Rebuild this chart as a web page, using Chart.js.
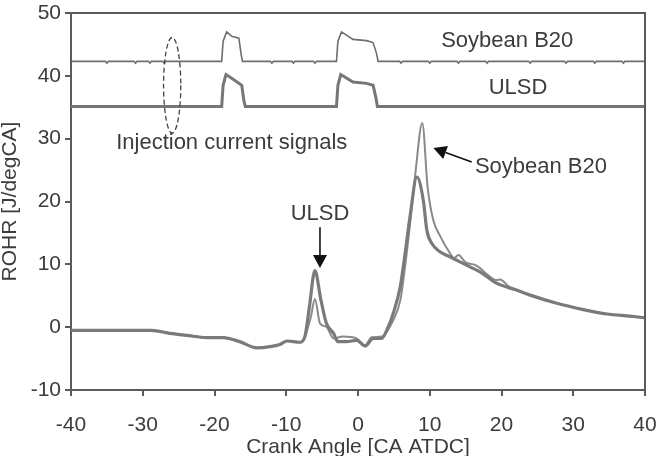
<!DOCTYPE html>
<html>
<head>
<meta charset="utf-8">
<script src="https://cdn.jsdelivr.net/npm/chart.js@4"></script>
<style>
  html, body { margin: 0; padding: 0; background: #fff; }
  #wrap { width: 662px; height: 456px; }
</style>
</head>
<body>
<div id="wrap"><canvas id="chart"></canvas></div>
<script>
// ROHR traces [J/degCA] vs crank angle [CA ATDC]
var ulsdAngle = [-40, -28.8, -26.2, -23.9, -21.1, -18.8, -16.5, -14.1, -12.3, -10.9, -9.9, -8.1, -7.4, -6.8, -6.0, -5.2, -4.4, -3.4, -2.8, -1.6, -0.2, 1.0, 2.1, 3.3, 4.0, 5.0, 5.9, 6.6, 7.3, 8.2, 9.1, 9.6, 10.3, 11.4, 12.8, 14.0, 15.6, 17.0, 19.3, 22.1, 24.0, 27.7, 31.4, 34.7, 37.9, 40];
var ulsdRohr  = [-0.5, -0.5, -1.0, -1.3, -1.65, -1.65, -2.3, -3.3, -3.1, -2.75, -2.2, -2.4, -1.5, 3.0, 9.0, 4.5, 0.6, -1.0, -2.3, -2.3, -2.1, -3.0, -1.8, -1.8, -0.5, 2.5, 6.5, 12.0, 18.0, 23.9, 20.2, 15.4, 13.3, 12.0, 11.2, 10.5, 9.6, 8.8, 7.0, 5.9, 5.1, 3.8, 2.8, 2.1, 1.75, 1.5];

var b20Angle = [-40, -28.8, -26.2, -23.9, -21.1, -18.8, -16.5, -14.1, -12.3, -10.9, -9.9, -8.1, -7.4, -6.6, -6.0, -5.3, -4.4, -3.4, -2.1, -0.2, 1.0, 1.9, 3.3, 4.9, 5.9, 6.6, 7.4, 8.0, 8.96, 9.7, 10.5, 11.4, 12.8, 13.4, 14.0, 15.0, 16.3, 17.0, 18.0, 19.3, 19.8, 21.0, 22.1, 24.0, 27.7, 31.4, 34.7, 37.9, 40];
var b20Rohr  = [-0.5, -0.5, -1.0, -1.3, -1.65, -1.65, -2.3, -3.3, -3.1, -2.75, -2.2, -2.4, -1.5, 1.5, 4.5, 0.6, 0.05, -1.8, -1.5, -1.8, -2.9, -1.6, -1.5, 1.1, 4.3, 10.0, 18.0, 24.5, 32.5, 22.3, 17.0, 14.6, 11.8, 11.0, 11.5, 10.3, 9.9, 9.4, 8.4, 7.5, 7.6, 6.5, 5.9, 5.1, 3.8, 2.8, 2.1, 1.75, 1.5];

// injection current signals (offset traces, arbitrary units)
var ulsdInjAngle = [-40, -19.0, -18.8, -18.4, -17.6, -16.2, -15.9, -15.7, -3.0, -2.8, -2.4, -0.7, 1.2, 2.1, 2.5, 2.7, 40];
var ulsdInjSig   = [35.1, 35.1, 38.5, 40.2, 39.6, 38.5, 36.0, 35.1, 35.1, 38.5, 40.2, 39.0, 38.8, 38.5, 36.5, 35.1, 35.1];

var b20InjAngle = [-40, -35.2, -35.0, -34.8, -31.2, -31.0, -30.8, -29.2, -29.0, -28.8, -27.2, -27.0, -26.8, -19.0, -18.8, -18.3, -17.6, -16.6, -16.3, -16.1, -12.2, -12.0, -11.8, -9.2, -9.0, -8.8, -6.2, -6.0, -5.8, -3.0, -2.8, -2.3, -0.7, 1.2, 2.1, 2.6, 2.8, 5.8, 6.0, 6.2, 9.8, 10.0, 10.2, 13.8, 14.0, 14.2, 17.8, 18.0, 18.2, 23.8, 24.0, 24.2, 28.8, 29.0, 29.2, 32.8, 33.0, 33.2, 36.8, 37.0, 37.2, 40];
var b20InjSig   = [42.3, 42.3, 42.0, 42.3, 42.3, 42.0, 42.3, 42.3, 42.0, 42.3, 42.3, 42.0, 42.3, 42.3, 45.5, 47.0, 46.3, 46.0, 43.5, 42.3, 42.3, 42.0, 42.3, 42.3, 42.0, 42.3, 42.3, 42.0, 42.3, 42.3, 45.5, 47.0, 45.8, 45.6, 45.3, 43.5, 42.3, 42.3, 42.0, 42.3, 42.3, 42.0, 42.3, 42.3, 42.0, 42.3, 42.3, 42.0, 42.3, 42.3, 42.0, 42.3, 42.3, 42.0, 42.3, 42.3, 42.0, 42.3, 42.3, 42.0, 42.3, 42.3];

var xTicks = [-40, -30, -20, -10, 0, 10, 20, 30, 40];
var yTicks = [-10, 0, 10, 20, 30, 40, 50];

function pts(xs, ys){
    var out = [];
    for(var i = 0; i < xs.length; i++){
        out.push({x: xs[i], y: ys[i]});
    }
    return out;
}

var FONT = "'Liberation Sans', Arial, sans-serif";
var TXT = '#3c3c3c';

// labels and arrows, placed in data coordinates (x = text centre)
var notes = [
    {text: 'Soybean B20', x: 20.8, y: 45.6},
    {text: 'ULSD', x: 22.3, y: 38.1},
    {text: 'Injection current signals', x: -17.6, y: 29.3},
    {text: 'ULSD', x: -5.3, y: 18.1},
    {text: 'Soybean B20', x: 25.5, y: 25.5}
];
var arrows = [
    {x1: -5.3, y1: 15.9, x2: -5.3, y2: 9.4},
    {x1: 15.85, y1: 26.3, x2: 10.5, y2: 28.5}
];

var framePlugin = {
    id: 'frame',
    afterDatasetsDraw: function(chart){
        var ctx = chart.ctx, a = chart.chartArea;
        var xs = chart.scales.x, ys = chart.scales.y;
        ctx.save();
        ctx.strokeStyle = '#5a5a5a';
        ctx.lineWidth = 2;
        ctx.beginPath();
        ctx.moveTo(a.left, a.top);
        ctx.lineTo(a.right, a.top);
        ctx.lineTo(a.right, a.bottom);
        ctx.stroke();

        // dashed ellipse round the early signal
        ctx.setLineDash([5, 3]);
        ctx.lineWidth = 1.3;
        ctx.strokeStyle = '#444';
        var cx = xs.getPixelForValue(-25.9), cy = ys.getPixelForValue(38.5);
        var rx = xs.getPixelForValue(-24.7) - cx, ry = cy - ys.getPixelForValue(46.1);
        ctx.beginPath();
        ctx.ellipse(cx, cy, rx, ry, 0, 0, Math.PI * 2);
        ctx.stroke();
        ctx.setLineDash([]);

        ctx.font = '22px ' + FONT;
        ctx.fillStyle = TXT;
        ctx.textBaseline = 'middle';
        ctx.textAlign = 'center';
        for(var i = 0; i < notes.length; i++){
            ctx.fillText(notes[i].text, xs.getPixelForValue(notes[i].x), ys.getPixelForValue(notes[i].y));
        }

        ctx.strokeStyle = '#111';
        ctx.fillStyle = '#111';
        ctx.lineWidth = 1.6;
        for(var j = 0; j < arrows.length; j++){
            var p1x = xs.getPixelForValue(arrows[j].x1), p1y = ys.getPixelForValue(arrows[j].y1);
            var p2x = xs.getPixelForValue(arrows[j].x2), p2y = ys.getPixelForValue(arrows[j].y2);
            var ang = Math.atan2(p2y - p1y, p2x - p1x);
            var hl = 13, hw = 7;
            var bx = p2x - hl * Math.cos(ang), by = p2y - hl * Math.sin(ang);
            ctx.beginPath();
            ctx.moveTo(p1x, p1y);
            ctx.lineTo(bx, by);
            ctx.stroke();
            ctx.beginPath();
            ctx.moveTo(p2x, p2y);
            ctx.lineTo(bx + hw * Math.sin(ang), by - hw * Math.cos(ang));
            ctx.lineTo(bx - hw * Math.sin(ang), by + hw * Math.cos(ang));
            ctx.closePath();
            ctx.fill();
        }
        ctx.restore();
    }
};

var ctx = document.getElementById('chart').getContext('2d');
var myChart = new Chart(ctx, {
    type: 'line',
    data: {
        datasets: [
            {label: 'ULSD injection', data: pts(ulsdInjAngle, ulsdInjSig), borderColor: '#767676', borderWidth: 3, tension: 0},
            {label: 'Soybean B20 injection', data: pts(b20InjAngle, b20InjSig), borderColor: '#6e6e6e', borderWidth: 1.6, tension: 0},
            {label: 'ULSD', data: pts(ulsdAngle, ulsdRohr), borderColor: '#7a7a7a', borderWidth: 3.2, cubicInterpolationMode: 'monotone'},
            {label: 'Soybean B20', data: pts(b20Angle, b20Rohr), borderColor: '#8a8a8a', borderWidth: 2, cubicInterpolationMode: 'monotone'}
        ]
    },
    options: {
        responsive: true,
        maintainAspectRatio: false,
        animation: false,
        parsing: false,
        elements: {point: {radius: 0}, line: {fill: false}},
        layout: {padding: {top: 13, right: 17, left: 0, bottom: 0}},
        plugins: {legend: {display: false}, tooltip: {enabled: false}},
        scales: {
            x: {
                type: 'linear',
                min: -40, max: 40,
                afterFit: function(s){ s.height = 66; s.paddingLeft = 0; s.paddingRight = 0; },
                afterBuildTicks: function(s){ s.ticks = xTicks.map(function(v){ return {value: v}; }); },
                border: {color: '#5a5a5a', width: 2},
                grid: {drawOnChartArea: false, drawTicks: true, tickLength: 6, color: '#5a5a5a', lineWidth: 2},
                ticks: {color: TXT, font: {family: FONT, size: 21}, padding: 17, maxRotation: 0},
                title: {display: true, text: 'Crank Angle [CA ATDC]', color: TXT, font: {family: FONT, size: 21, lineHeight: 0.8}, padding: {top: 0, bottom: 0}}
            },
            y: {
                min: -10, max: 50,
                afterFit: function(s){ s.width = 71; s.paddingTop = 0; s.paddingBottom = 0; },
                afterBuildTicks: function(s){ s.ticks = yTicks.map(function(v){ return {value: v}; }); },
                border: {color: '#5a5a5a', width: 2},
                grid: {drawOnChartArea: false, drawTicks: true, tickLength: 6, color: '#5a5a5a', lineWidth: 2},
                ticks: {color: TXT, font: {family: FONT, size: 21}, padding: 4},
                title: {display: true, text: 'ROHR [J/degCA]', color: TXT, font: {family: FONT, size: 21, lineHeight: 1.0}, padding: {top: 0, bottom: 0}}
            }
        }
    },
    plugins: [framePlugin]
});
</script>
</body>
</html>
